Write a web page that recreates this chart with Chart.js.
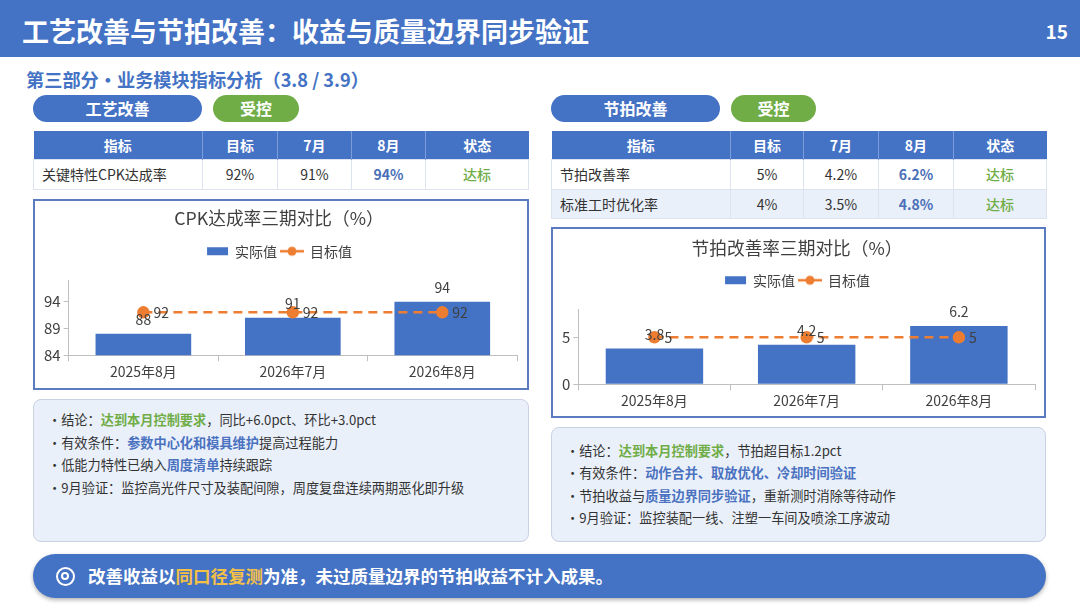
<!DOCTYPE html>
<html lang="zh-CN">
<head>
<meta charset="UTF-8">
<title>工艺改善与节拍改善</title>
<script src="https://cdn.jsdelivr.net/npm/chart.js@4.4.1/dist/chart.umd.min.js"></script>
<style>
  * { box-sizing: border-box; }
  body { margin: 0; width: 1080px; height: 608px; position: relative; overflow: hidden; background: #fff;
         font-family: "Noto Sans CJK SC", "Noto Sans", sans-serif; color: #333; }
  .hdr { position: absolute; left: 0; top: 0; width: 1080px; height: 57px; background: #4472C4; }
  .hdr h1 { position: absolute; left: 22px; top: 2px; margin: 0; line-height: 57px; font-size: 27px; font-weight: 700; color: #fff; }
  .hdr .pg { position: absolute; right: 12px; top: 2px; line-height: 57px; font-size: 19px; font-weight: 700; color: #fff; }
  .sub { position: absolute; left: 26px; top: 66px; line-height: 26px; font-size: 18.2px; font-weight: 700; color: #4472C4; }
  .pill { position: absolute; top: 95px; height: 27px; border-radius: 14px; color: #fff; font-weight: 700; font-size: 16px;
          line-height: 27px; text-align: center; }
  .pill.blue { background: #4472C4; }
  .pill.green { background: #70AD47; }
  table { position: absolute; top: 131px; border-collapse: collapse; table-layout: fixed; font-size: 14px; }
  th { background: #4472C4; color: #fff; font-weight: 700; height: 28px; padding: 0; border-left: 1px solid #7E9DD8; }
  th:first-child { border-left: none; }
  td { height: 30px; padding: 0; text-align: center; border: 1px solid #DEE4EF; color: #333; }
  td:first-child { text-align: left; padding-left: 8px; }
  tr.alt td { background: #EAF0F9; height: 29px; }
  .b8 { color: #4A6FB8; font-weight: 700; }
  .ok { color: #70AD47; font-weight: 500; }
  .cbox { position: absolute; border: 2px solid #5B7BC0; background: #fff; }
  .cbox canvas { position: absolute; left: 0; top: 0; }
  .notes { position: absolute; background: #EAF0FA; border: 1px solid #C8D2E2; border-radius: 8px; padding-left: 14px;
           font-size: 13.2px; color: #333; }
  .g { color: #70AD47; font-weight: 700; }
  .bl { color: #4A72C0; font-weight: 700; }
  .banner { position: absolute; left: 33px; top: 554px; width: 1013px; height: 44px; border-radius: 22px; background: #4472C4;
            box-shadow: 0 2px 4px rgba(0,0,0,0.3); }
  .banner .ico { position: absolute; left: 23px; top: 13px; width: 19px; height: 19px; border: 2.5px solid #fff; border-radius: 50%; }
  .banner .ico::after { content: ""; position: absolute; left: 3px; top: 3px; width: 8px; height: 8px; border: 2px solid #fff; border-radius: 50%; box-sizing: border-box; }
  .banner .txt { position: absolute; left: 55px; top: 0; line-height: 44px; font-size: 17.5px; font-weight: 700; color: #fff; }
  .banner .hl { color: #F4C046; }
</style>
</head>
<body>

<div class="hdr">
  <h1>工艺改善与节拍改善：收益与质量边界同步验证</h1>
  <div class="pg">15</div>
</div>
<div class="sub">第三部分・业务模块指标分析（3.8 / 3.9）</div>

<div class="pill blue" style="left:33px;width:169px;">工艺改善</div>
<div class="pill green" style="left:213px;width:86px;">受控</div>
<div class="pill blue" style="left:551px;width:169px;">节拍改善</div>
<div class="pill green" style="left:731px;width:85px;">受控</div>

<table style="left:33px;width:495px;">
  <colgroup><col style="width:169px"><col style="width:75px"><col style="width:74px"><col style="width:74px"><col style="width:103px"></colgroup>
  <tr><th>指标</th><th>目标</th><th>7月</th><th>8月</th><th>状态</th></tr>
  <tr><td>关键特性CPK达成率</td><td>92%</td><td>91%</td><td class="b8">94%</td><td class="ok">达标</td></tr>
</table>

<table style="left:551px;width:495px;">
  <colgroup><col style="width:179px"><col style="width:73px"><col style="width:75px"><col style="width:75px"><col style="width:93px"></colgroup>
  <tr><th>指标</th><th>目标</th><th>7月</th><th>8月</th><th>状态</th></tr>
  <tr><td>节拍改善率</td><td>5%</td><td>4.2%</td><td class="b8">6.2%</td><td class="ok">达标</td></tr>
  <tr class="alt"><td>标准工时优化率</td><td>4%</td><td>3.5%</td><td class="b8">4.8%</td><td class="ok">达标</td></tr>
</table>

<div class="cbox" style="left:33px;top:199px;width:496px;height:191px;">
  <canvas id="chart-cpk" width="492" height="187"></canvas>
</div>
<div class="cbox" style="left:551px;top:227px;width:495px;height:191px;">
  <canvas id="chart-takt" width="491" height="187"></canvas>
</div>

<div class="notes" style="left:33px;top:399px;width:496px;height:143px;padding-top:9px;line-height:22.7px;">
  <div>·结论：<span class="g">达到本月控制要求</span>，同比+6.0pct、环比+3.0pct</div>
  <div>·有效条件：<span class="bl">参数中心化和模具维护</span>提高过程能力</div>
  <div>·低能力特性已纳入<span class="bl">周度清单</span>持续跟踪</div>
  <div>·9月验证：监控高光件尺寸及装配间隙，周度复盘连续两期恶化即升级</div>
</div>
<div class="notes" style="left:551px;top:427px;width:495px;height:115px;padding-top:12px;line-height:22.4px;">
  <div>·结论：<span class="g">达到本月控制要求</span>，节拍超目标1.2pct</div>
  <div>·有效条件：<span class="bl">动作合并、取放优化、冷却时间验证</span></div>
  <div>·节拍收益与<span class="bl">质量边界同步验证</span>，重新测时消除等待动作</div>
  <div>·9月验证：监控装配一线、注塑一车间及喷涂工序波动</div>
</div>

<div class="banner">
  <div class="ico"></div>
  <div class="txt">改善收益以<span class="hl">同口径复测</span>为准，未过质量边界的节拍收益不计入成果。</div>
</div>

<script>
  // 数据
  var periods = ['2025年8月', '2026年7月', '2026年8月'];
  var seriesNames = ['实际值', '目标值'];

  var cpkActual = [88, 91, 94];
  var cpkTarget = [92, 92, 92];
  var cpkTicks = [84, 89, 94];
  var cpkRange = [84, 98];

  var taktActual = [3.8, 4.2, 6.2];
  var taktTarget = [5, 5, 5];
  var taktTicks = [0, 5];
  var taktRange = [0, 8];

  var BLUE = '#4472C4';
  var ORANGE = '#ED7D31';
  var TEXT = '#404040';
  var AXIS = '#BFBFBF';

  Chart.defaults.font.family = '"Noto Sans CJK SC", "Noto Sans", sans-serif';
  Chart.defaults.color = TEXT;

  // 图例色块
  function swatch(kind) {
    var c = document.createElement('canvas');
    c.width = 24;
    c.height = 12;
    var g = c.getContext('2d');
    if (kind === 'bar') {
      g.fillStyle = BLUE;
      g.fillRect(2, 2, 21, 8);
    } else {
      g.strokeStyle = ORANGE;
      g.lineWidth = 2.5;
      g.beginPath();
      g.moveTo(0, 6);
      g.lineTo(24, 6);
      g.stroke();
      g.fillStyle = ORANGE;
      g.beginPath();
      g.arc(12, 6, 4.5, 0, Math.PI * 2);
      g.fill();
    }
    return c;
  }
  var swatches = [swatch('bar'), swatch('line')];

  // 图例与绘图区之间留空
  var legendGap = {
    id: 'legendGap',
    beforeInit: function (chart, args, opts) {
      var fit = chart.legend.fit;
      chart.legend.fit = function () {
        fit.bind(chart.legend)();
        this.height += opts.gap || 0;
      };
    }
  };

  // 数据标签
  var valueLabels = {
    id: 'valueLabels',
    afterDatasetsDraw: function (chart) {
      var ctx = chart.ctx;
      ctx.save();
      ctx.font = '14px "Noto Sans CJK SC", sans-serif';
      ctx.fillStyle = TEXT;
      ctx.textBaseline = 'middle';
      chart.data.datasets.forEach(function (ds, i) {
        chart.getDatasetMeta(i).data.forEach(function (el, j) {
          if (ds.type === 'line') {
            ctx.textAlign = 'left';
            ctx.fillText(ds.data[j], el.x + 10, el.y);
          } else {
            ctx.textAlign = 'center';
            ctx.fillText(ds.data[j], el.x, el.y - 14);
          }
        });
      });
      ctx.restore();
    }
  };

  function makeChart(id, title, actual, target, ticks, range, pad) {
    return new Chart(document.getElementById(id), {
      data: {
        labels: periods,
        datasets: [{
          type: 'bar',
          label: seriesNames[0],
          data: actual,
          backgroundColor: BLUE,
          categoryPercentage: 0.8,
          barPercentage: 0.8,
          order: 1
        }, {
          type: 'line',
          label: seriesNames[1],
          data: target,
          borderColor: ORANGE,
          backgroundColor: ORANGE,
          borderWidth: 2.5,
          borderDash: [9, 6],
          pointRadius: 5,
          pointHoverRadius: 5,
          fill: false,
          order: 0
        }]
      },
      options: {
        responsive: false,
        animation: false,
        layout: { padding: { left: pad.left, right: pad.right, top: 0, bottom: pad.bottom } },
        plugins: {
          title: {
            display: true,
            text: title,
            color: TEXT,
            font: { size: 17.7, weight: 'normal' },
            padding: { top: pad.titleTop, bottom: pad.titleBottom }
          },
          legend: {
            labels: {
              usePointStyle: true,
              pointStyleWidth: 22,
              padding: 4,
              color: TEXT,
              font: { size: 14 },
              sort: function (a, b) { return a.datasetIndex - b.datasetIndex; },
              generateLabels: function (chart) {
                var items = Chart.defaults.plugins.legend.labels.generateLabels(chart);
                items.forEach(function (it) { it.pointStyle = swatches[it.datasetIndex]; });
                return items;
              }
            }
          },
          legendGap: { gap: pad.legendGap },
          tooltip: { enabled: false }
        },
        scales: {
          x: {
            grid: { drawOnChartArea: false, tickLength: 6, color: AXIS },
            border: { color: AXIS },
            ticks: { color: TEXT, font: { size: 14 }, padding: 2 }
          },
          y: {
            min: range[0],
            max: range[1],
            grid: { drawOnChartArea: false, tickLength: 5, color: AXIS },
            border: { color: AXIS },
            ticks: { color: TEXT, font: { size: 15 }, padding: 3 },
            afterBuildTicks: function (scale) {
              scale.ticks = ticks.map(function (v) { return { value: v }; });
            }
          }
        }
      },
      plugins: [legendGap, valueLabels]
    });
  }

  makeChart('chart-cpk', 'CPK达成率三期对比（%）', cpkActual, cpkTarget, cpkTicks, cpkRange,
    { left: 6, right: 10, bottom: 6, titleTop: 7, titleBottom: 11, legendGap: 12 });
  makeChart('chart-takt', '节拍改善率三期对比（%）', taktActual, taktTarget, taktTicks, taktRange,
    { left: 6, right: 9, bottom: 5, titleTop: 9, titleBottom: 10, legendGap: 12 });
</script>
</body>
</html>
